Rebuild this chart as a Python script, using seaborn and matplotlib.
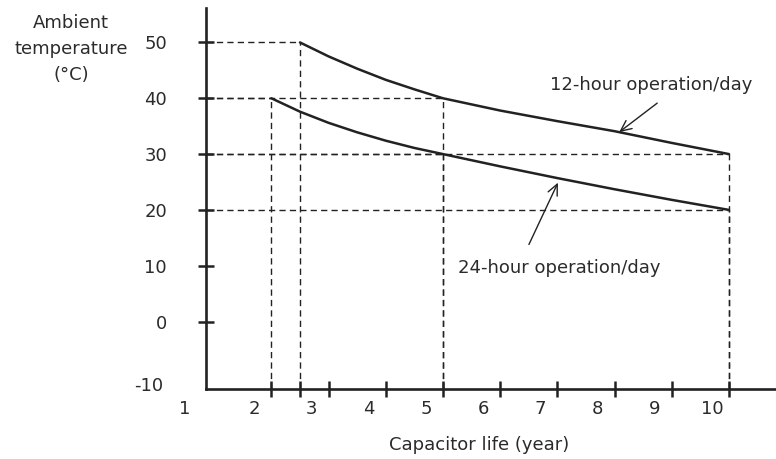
import numpy as np
import pandas as pd
import matplotlib
matplotlib.use("Agg")
import matplotlib.pyplot as plt
import seaborn as sns

# Capacitor life (years) vs ambient temperature (degC)
life_12h = [2.5, 3.0, 3.5, 4.0, 4.5, 5.0, 6.0, 7.0, 8.0, 9.0, 10.0]
temp_12h = [50.0, 47.5, 45.3, 43.3, 41.6, 40.0, 37.8, 35.9, 34.1, 32.0, 30.0]
life_24h = [2.0, 2.5, 3.0, 3.5, 4.0, 4.5, 5.0, 6.0, 7.0, 8.0, 9.0, 10.0]
temp_24h = [40.0, 37.6, 35.6, 33.9, 32.4, 31.1, 30.0, 27.8, 25.7, 23.7, 21.8, 20.0]

# Reference points marked with dashed guides
guide_life_12h = [2.5, 5.0, 10.0]
guide_temp_12h = [50, 40, 30]
guide_life_24h = [2.0, 5.0, 10.0]
guide_temp_24h = [40, 30, 20]

x_tick_marks = [2, 2.5, 3, 4, 5, 6, 7, 8, 9, 10]
x_tick_labels = ["1", "2", "3", "4", "5", "6", "7", "8", "9", "10"]
y_ticks = [0, 10, 20, 30, 40, 50]

label_12h = "12-hour operation/day"
label_24h = "24-hour operation/day"

sns.set_theme(style="white")
plt.rcParams["font.family"] = ["DejaVu Sans"]
INK = "#222222"
TXT = "#2b2b2b"
FS = 13

df = pd.concat([
    pd.DataFrame({"life": life_12h, "temp": temp_12h, "mode": label_12h}),
    pd.DataFrame({"life": life_24h, "temp": temp_24h, "mode": label_24h}),
])

fig = plt.figure(figsize=(7.76, 4.59), dpi=100)
ax = fig.add_axes([206 / 776, 1 - 389 / 459, 570 / 776, 381 / 459])

xmin, xmax = 0.857, 10.822
ymin, ymax = -12.08, 56.17

sns.lineplot(data=df, x="life", y="temp", units="mode", estimator=None,
             color=INK, lw=1.8, sort=False, ax=ax, zorder=3, legend=False)

# dashed guides from the axes to the marked points
dash = dict(color=INK, lw=1.0, linestyle=(0, (4.5, 3)), zorder=1)
for lx, ty in zip(guide_life_12h + guide_life_24h, guide_temp_12h + guide_temp_24h):
    ax.hlines(ty, xmin, lx, **dash)
    ax.vlines(lx, ymin, ty, **dash)

# spines and ticks
for s in ["top", "right"]:
    ax.spines[s].set_visible(False)
for s in ["left", "bottom"]:
    ax.spines[s].set_color(INK)
    ax.spines[s].set_linewidth(1.9)

ax.set_xticks(x_tick_marks)
ax.tick_params(axis="x", which="major", direction="inout", length=12, width=1.8,
               color=INK, labelbottom=False, bottom=True)

ax.set_yticks(y_ticks)
ax.set_yticklabels([str(v) for v in y_ticks])
ax.tick_params(axis="y", which="major", direction="inout", length=12, width=1.8,
               color=INK, pad=22, labelsize=FS, labelcolor=TXT, left=True)

ax.set_xlim(xmin, xmax)
ax.set_ylim(ymin, ymax)

# year labels sit just left of their tick marks
label_pos = np.arange(1, 11) - 0.3
label_pos[0] = 0.49
for xp, lab in zip(label_pos, x_tick_labels):
    ax.annotate(lab, xy=(xp, 0), xycoords=("data", "axes fraction"),
                xytext=(0, -8), textcoords="offset points", ha="center", va="top",
                fontsize=FS, color=TXT, annotation_clip=False)

ax.annotate("-10", xy=(0, -10), xycoords=("axes fraction", "data"),
            xytext=(-31, -6), textcoords="offset points",
            ha="right", va="center", fontsize=FS, color=TXT, annotation_clip=False)

ax.set_xlabel("")
ax.set_ylabel("")
ax.text((479 - 206) / 570, -(445 - 389) / 381, "Capacitor life (year)",
        transform=ax.transAxes, ha="center", va="center", fontsize=FS, color=TXT)
fig.text(71 / 776, 1 - 49 / 459, "Ambient\ntemperature\n(\u00b0C)", ha="center",
         va="center", fontsize=FS, color=TXT, linespacing=1.58)

# curve labels with pointer arrows
arrow = dict(arrowstyle="->,head_length=0.65,head_width=0.3", color=INK, lw=1.0,
             shrinkA=0, shrinkB=0)
tip12 = 8.08
ax.annotate("", xy=(tip12, np.interp(tip12, life_12h, temp_12h)),
            xytext=(27.4, 20.9), textcoords="offset points", arrowprops=arrow)
ax.text(6.87, 42.4, label_12h, ha="left", va="center", fontsize=FS, color=TXT)

tip24 = 7.01
ax.annotate("", xy=(tip24, np.interp(tip24, life_24h, temp_24h) - 0.8),
            xytext=(-20.9, -44.5), textcoords="offset points", arrowprops=arrow)
ax.text(5.26, 9.6, label_24h, ha="left", va="center", fontsize=FS, color=TXT)

fig.savefig("out.png", dpi=100)
